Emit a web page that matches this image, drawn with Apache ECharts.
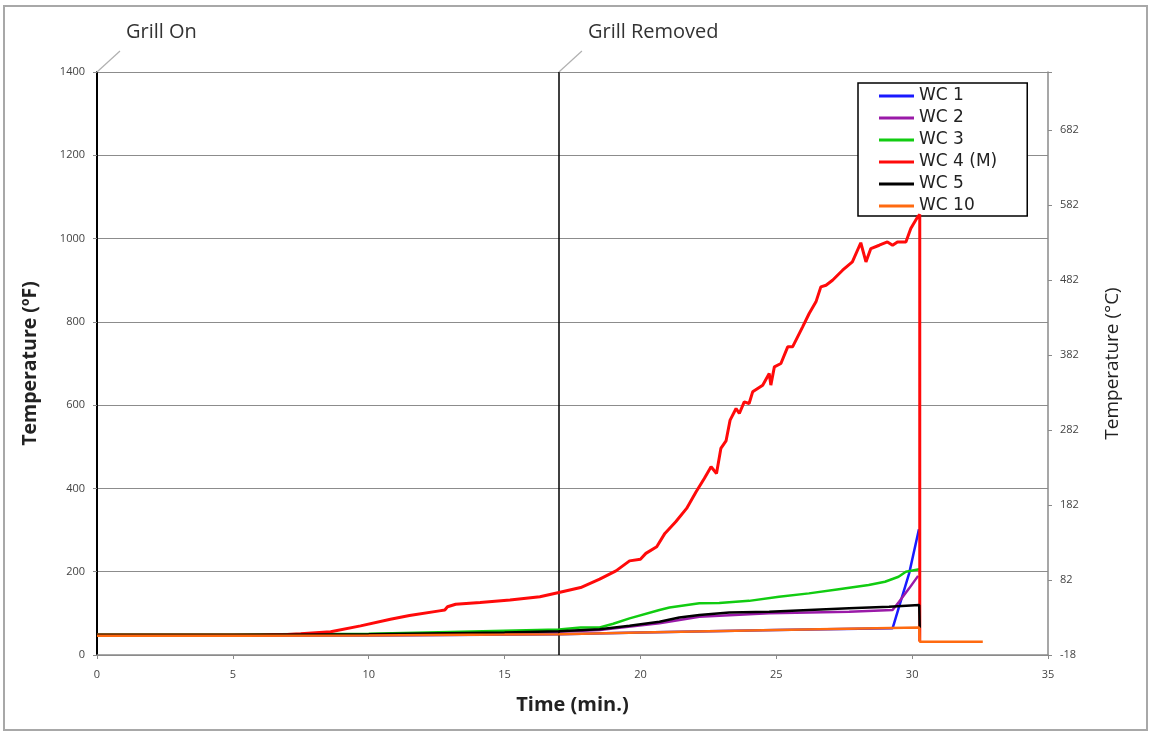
<!DOCTYPE html>
<html>
<head>
<meta charset="utf-8">
<script src="https://cdn.jsdelivr.net/npm/echarts@6/dist/echarts.min.js"></script>
<style>html,body{margin:0;padding:0;background:#fff;}#c{width:1151px;height:733px;}</style>
</head>
<body>
<div id="c"></div>
<script>
// ---- data (time in minutes, temperature in °F) ----
var seriesNames = ['WC 1', 'WC 2', 'WC 3', 'WC 4 (M)', 'WC 5', 'WC 10'];
var seriesColors = ['#1a1aff', '#9a1aa8', '#11cc11', '#ff0a0a', '#000000', '#ff6a10'];

var wc1Time = [0, 10, 17, 20, 25, 29.28, 29.52, 29.89, 30.25];
var wc1Temp = [46, 47, 50, 54, 60, 64, 116, 196, 302];

var wc2Time = [0, 5, 10, 15, 17, 18.5, 20.7, 22.17, 24.74, 27.68, 29.28, 29.52, 29.89, 30.22];
var wc2Temp = [47, 47, 49, 53, 56, 60, 76, 92, 100, 104, 108, 128, 160, 190];

var wc3Time = [0, 5, 10, 13, 15, 17, 17.8, 18.5, 19.0, 19.6, 20.7, 21.07, 22.17, 22.9, 24.0, 25.1, 26.2, 27.3, 28.4, 29.0, 29.5, 29.77, 30.26];
var wc3Temp = [49, 49, 51, 55, 58, 61, 66, 66, 75, 88, 108, 114, 124, 125, 130, 140, 148, 158, 168, 176, 188, 200, 206];

var wc4Time = [0, 2, 4, 6, 7, 7.5, 8.6, 9.7, 10.8, 11.5, 12.6, 12.8, 12.9, 13.2, 14.1, 15.2, 16.3, 17.0, 17.8, 18.5, 19.1, 19.6, 20.0, 20.2, 20.6, 20.9, 21.3, 21.7, 22.05, 22.35, 22.6, 22.8, 22.96, 23.15, 23.3, 23.52, 23.64, 23.82, 24.0, 24.13, 24.5, 24.74, 24.8, 24.93, 25.17, 25.42, 25.6, 25.97, 26.21, 26.46, 26.64, 26.83, 27.07, 27.44, 27.8, 28.11, 28.3, 28.48, 28.79, 29.09, 29.28, 29.46, 29.77, 29.95, 30.2, 30.28, 30.28];
var wc4Temp = [48, 48, 48, 48, 49, 51, 56, 70, 86, 95, 106, 108, 116, 122, 126, 132, 140, 150, 162, 182, 202, 226, 230, 244, 260, 292, 320, 352, 392, 424, 452, 436, 496, 514, 564, 592, 580, 608, 604, 632, 648, 676, 648, 692, 700, 740, 740, 788, 820, 848, 884, 888, 900, 924, 944, 990, 944, 976, 984, 992, 984, 992, 992, 1024, 1052, 1058, 33];

var wc5Time = [0, 5, 10, 15, 17, 18.5, 19.6, 20.7, 21.43, 22.17, 23.27, 24.74, 26.2, 27.68, 29.15, 30.26, 30.28];
var wc5Temp = [48, 48, 50, 54, 57, 62, 70, 80, 90, 96, 102, 104, 108, 112, 116, 120, 65];

var wc10Time = [0, 5, 10, 15, 17, 20, 25, 30.26, 30.28, 32.6];
var wc10Temp = [46, 46, 47, 49, 50, 54, 60, 66, 32, 32];

var eventTimes = [0, 17];
var eventLabels = ['Grill On', 'Grill Removed'];

var xTicks = {min: 0, max: 35, interval: 5};
var fTicks = {min: 0, max: 1400, interval: 200};

// ---- build ----
function pairs(t, v) { return t.map(function (x, i) { return [x, v[i]]; }); }
var allData = [pairs(wc1Time, wc1Temp), pairs(wc2Time, wc2Temp), pairs(wc3Time, wc3Temp),
               pairs(wc4Time, wc4Temp), pairs(wc5Time, wc5Temp), pairs(wc10Time, wc10Temp)];
// Celsius axis: shifted so that 0 °F maps to 0 on this axis
var cOffset = 32 / 1.8; // 17.78
var cMax = (fTicks.max - 32) / 1.8 + cOffset;

var chart = echarts.init(document.getElementById('c'), null, {renderer: 'canvas'});
var FONT = '"Open Sans", "DejaVu Sans", sans-serif';

var series = allData.map(function (d, i) {
  var s = {
    name: seriesNames[i], type: 'line', data: d, showSymbol: false, symbol: 'none',
    lineStyle: {color: seriesColors[i], width: i === 3 ? 3 : 2.5},
    itemStyle: {color: seriesColors[i]},
    z: 3 + i, animation: false
  };
  if (i === 0) {
    s.markLine = {
      silent: true, symbol: 'none', animation: false,
      label: {show: false},
      lineStyle: {color: '#000', width: 1.5, type: 'solid'},
      data: eventTimes.filter(function (t) { return t > 0; }).map(function (t) { return {xAxis: t}; })
    };
  }
  return s;
});

var option = {
  backgroundColor: '#fff',
  animation: false,
  grid: {left: 97, right: 103, top: 72, bottom: 78},
  legend: {
    orient: 'vertical', left: 858, top: 83,
    data: seriesNames,
    icon: 'rect', itemWidth: 35, itemHeight: 3, itemGap: 4,
    padding: [4, 30, 1, 21],
    borderColor: '#000', borderWidth: 1.5, backgroundColor: '#fff',
    textStyle: {fontSize: 17, lineHeight: 18, color: '#222', fontFamily: '"DejaVu Sans", sans-serif'}
  },
  xAxis: {
    type: 'value', min: xTicks.min, max: xTicks.max, interval: xTicks.interval,
    name: 'Time (min.)', nameLocation: 'middle', nameGap: 40,
    nameTextStyle: {fontSize: 20, fontWeight: 'bold', color: '#222', fontFamily: FONT},
    axisLine: {lineStyle: {color: '#8a8a8a', width: 1.5}},
    axisTick: {show: true, length: 4, lineStyle: {color: '#8a8a8a'}},
    axisLabel: {fontSize: 11, color: '#444', margin: 14, fontFamily: FONT},
    splitLine: {show: false}
  },
  yAxis: [{
    type: 'value', min: fTicks.min, max: fTicks.max, interval: fTicks.interval,
    name: 'Temperature (ºF)', nameLocation: 'middle', nameGap: 57, nameRotate: 90,
    nameTextStyle: {fontSize: 19.5, fontWeight: 'bold', color: '#222', fontFamily: FONT},
    axisLine: {show: true, lineStyle: {color: '#000', width: 2}},
    axisTick: {show: true, length: 4, lineStyle: {color: '#8a8a8a'}},
    axisLabel: {fontSize: 11, color: '#444', margin: 12, fontFamily: FONT,
      formatter: function (v) { return String(v); }},
    splitLine: {show: true, lineStyle: {color: '#8c8c8c', width: 1.2}}
  }, {
    type: 'value', position: 'right', min: 0, max: cMax, interval: 100,
    name: 'Temperature (°C)', nameLocation: 'middle', nameGap: 55, nameRotate: 90,
    nameTextStyle: {fontSize: 19, color: '#222', fontFamily: FONT},
    axisLine: {show: true, lineStyle: {color: '#8a8a8a', width: 1.5}},
    axisTick: {show: true, length: 4, lineStyle: {color: '#8a8a8a'}},
    axisLabel: {fontSize: 11, color: '#444', margin: 12, fontFamily: FONT,
      formatter: function (v) { return v > 760 ? '' : String(Math.round(v - cOffset)); }},
    splitLine: {show: false}
  }],
  series: series
};
chart.setOption(option);

// annotations placed through the axes
var g = [{
  type: 'rect', shape: {x: 4, y: 6, width: 1143, height: 724},
  style: {fill: 'none', stroke: '#a8a8a8', lineWidth: 2}, silent: true, z: 0
}];
eventTimes.forEach(function (t, i) {
  var p = chart.convertToPixel({xAxisIndex: 0, yAxisIndex: 0}, [t, fTicks.max]);
  g.push({type: 'line', shape: {x1: p[0], y1: p[1], x2: p[0] + 23, y2: p[1] - 21},
          style: {stroke: '#b0b0b0', lineWidth: 1.2}, silent: true, z: 10});
  g.push({type: 'text', x: p[0] + 29, y: p[1] - 40,
          style: {text: eventLabels[i], fontSize: 20, fill: '#333', fontFamily: FONT,
                  textAlign: 'left', textVerticalAlign: 'middle'}, silent: true, z: 10});
});
chart.setOption({graphic: g});
</script>
</body>
</html>
